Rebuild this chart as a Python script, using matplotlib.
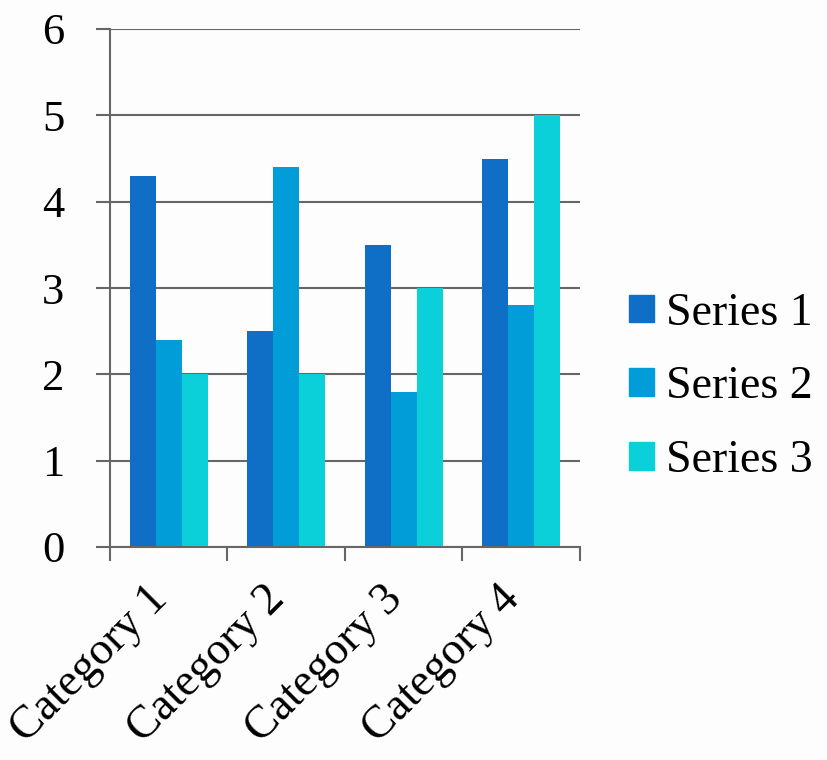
import numpy as np
import matplotlib
matplotlib.use('Agg')
import matplotlib.pyplot as plt
import matplotlib.transforms as mtransforms
from matplotlib.patches import Patch

# ---------------------------------------------------------------------------
# Data
# ---------------------------------------------------------------------------
categories = ['Category 1', 'Category 2', 'Category 3', 'Category 4']
series_names = ['Series 1', 'Series 2', 'Series 3']
series_1 = [4.3, 2.5, 3.5, 4.5]
series_2 = [2.4, 4.4, 1.8, 2.8]
series_3 = [2.0, 2.0, 3.0, 5.0]
colors = ['#0F6FC6', '#009DD9', '#0BD0D9']

plt.rcParams['font.family'] = ['Liberation Serif', 'DejaVu Serif']

grid_col = '#666666'

fig = plt.figure(figsize=(8.28, 7.6), dpi=100)
fig.patch.set_facecolor('#fdfdfd')
ax = fig.add_axes([110 / 828, 1 - 547 / 760, 470 / 828, 518 / 760])
ax.set_facecolor('none')

x = np.arange(len(categories))
bw = 1 / 4.5
for i, vals in enumerate([series_1, series_2, series_3]):
    ax.bar(x + (i - 1) * bw, vals, width=bw, color=colors[i], zorder=3)

ax.set_xlim(-0.5, len(categories) - 0.5)
ax.set_ylim(0, 6)
ax.set_yticks(range(0, 7))
ax.set_yticklabels([str(v) for v in range(0, 7)])
ax.grid(axis='y', color=grid_col, lw=1.5, zorder=1)

ax.set_xticks(x)
ax.set_xticklabels(categories, rotation=45, ha='right', va='center',
                   rotation_mode='anchor')
ax.set_xticks(np.arange(-0.5, len(categories)), minor=True)
ax.tick_params(axis='x', which='major', length=0, pad=33, labelsize=33)
ax.tick_params(axis='x', which='minor', length=10, width=1.5, color=grid_col)
ax.tick_params(axis='y', length=10, width=1.5, color=grid_col, pad=23, labelsize=32)

# nudge category labels a little to the left
shift = mtransforms.ScaledTranslation(-8 / 100, 0, fig.dpi_scale_trans)
for lbl in ax.get_xticklabels():
    lbl.set_transform(lbl.get_transform() + shift)

for s in ['top', 'right']:
    ax.spines[s].set_visible(False)
for s in ['left', 'bottom']:
    ax.spines[s].set_color(grid_col)
    ax.spines[s].set_linewidth(1.5)
    ax.spines[s].set_zorder(4)

handles = [Patch(color=c, label=n) for c, n in zip(colors, series_names)]
fig.legend(handles=handles, loc='center left', bbox_to_anchor=(629 / 828, 1 - 387 / 760),
           frameon=False, fontsize=33, handlelength=0.55, handleheight=0.55,
           handletextpad=0.25, labelspacing=0.68, borderpad=0, borderaxespad=0)

fig.savefig('out.png', dpi=100, facecolor=fig.get_facecolor())
